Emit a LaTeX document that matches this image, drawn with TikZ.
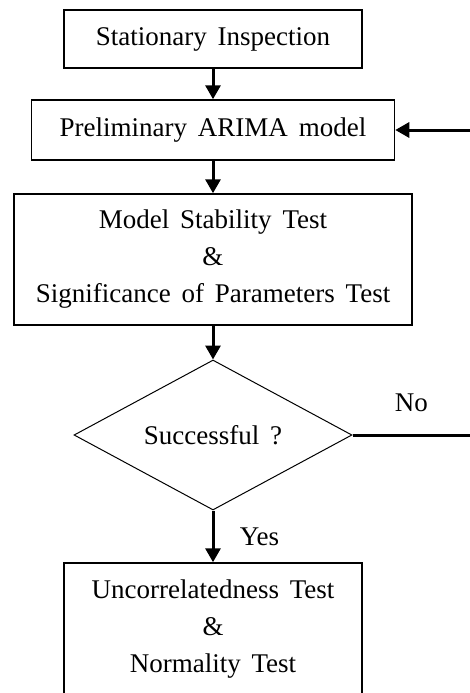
\documentclass[tikz,border=0pt]{standalone}
\usepackage{fontspec}
\setmainfont{Liberation Serif}
\usetikzlibrary{positioning,shapes.geometric,arrows.meta}
\newcommand{\flowfont}{\fontsize{27}{37}\selectfont\spaceskip 0.4em plus 0.1em\relax}

\begin{document}
\begin{tikzpicture}[node distance=64pt,on grid,auto,
    font=\flowfont,
    box/.style={draw,rectangle,line width=1.5pt,align=center},
    flow/.style={line width=3pt,-{Triangle[length=14pt,width=15pt]}}]
      \useasboundingbox (0,0) rectangle (470pt,-693pt);
      \node[box,minimum height=58pt,minimum width=298pt] (si) at (213pt,-39pt) {Stationary Inspection};
      \node[box,minimum height=60pt,minimum width=363pt,below =91pt of si] (arima) {Preliminary ARIMA model};
      \node[box,minimum height=131pt,minimum width=398pt,below =129.5pt of arima] (mst) {Model Stability Test\\ \&\\ Significance of Parameters Test};
      \node[diamond,aspect=1.85,draw,line width=1pt,inner sep=0pt,minimum width=278pt,minimum height=150pt,below =175.5pt of mst] (ok) {Successful ?};
      \node[box,minimum height=132pt,minimum width=298pt,below =194pt of ok] (unc) {Uncorrelatedness Test\\ \&\\ Normality Test};
      \coordinate[right =257pt of arima] (back);
      \coordinate[right =257pt of ok] (no);
      \path[flow]
      (si) edge (arima)
      (arima) edge (mst)
      (mst) edge (ok)
      (back) edge (arima)
      (ok) edge node[right=22pt] {Yes} (unc)
      ;
      \draw[line width=3pt] (ok.east) -- node[above=18pt] {No} (no);
    \end{tikzpicture}
\end{document}
